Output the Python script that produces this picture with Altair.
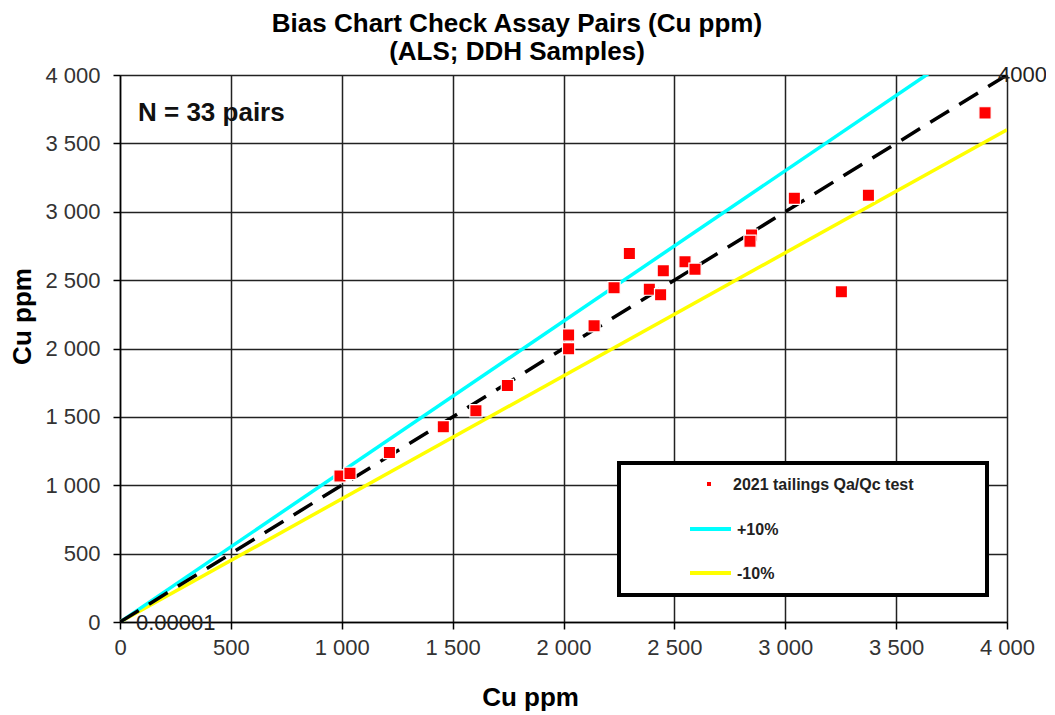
import altair as alt
import pandas as pd

# ---- data ----
cu_original = [992, 1037, 1215, 1458, 1605, 1747, 2023, 2023, 2138, 2228, 2297,
               2387, 2438, 2450, 2548, 2593, 2848, 2841, 3041, 3253, 3375, 3901]
cu_check = [1067, 1087, 1240, 1428, 1545, 1730, 2098, 1998, 2166, 2444, 2695,
            2434, 2393, 2568, 2634, 2580, 2829, 2785, 3099, 2415, 3121, 3723]

ref_x = [0.00001, 4000]
ref_y = [0.00001, 4000]
band_x = [0, 4000]
plus10_y = [0, 4400]
minus10_y = [0, 3600]
ticks = [0, 500, 1000, 1500, 2000, 2500, 3000, 3500, 4000]

title_lines = ["Bias Chart Check Assay Pairs (Cu ppm)", "(ALS; DDH Samples)"]
n_label = "N = 33 pairs"
legend_labels = ["2021 tailings Qa/Qc test", "+10%", "-10%"]

FONT = "Liberation Sans"

pts = pd.DataFrame({"x": cu_original, "y": cu_check})
ref = pd.DataFrame({"x": ref_x, "y": ref_y})
plus = pd.DataFrame({"x": band_x, "y": plus10_y})
minus = pd.DataFrame({"x": band_x, "y": minus10_y})
start_label = pd.DataFrame({"x": [ref_x[0]], "y": [ref_y[0]], "t": ["0.00001"]})
end_label = pd.DataFrame({"x": [ref_x[1]], "y": [ref_y[1]], "t": ["4000"]})

label_expr = "replace(format(datum.value, ','), ',', ' ')"

xs = alt.Scale(domain=[0, 4000], nice=False)
ys = alt.Scale(domain=[0, 4000], nice=False)

common_axis = dict(
    values=ticks, labelExpr=label_expr, labelFontSize=22, labelColor="#333333",
    labelFont=FONT, labelFlush=False, tickSize=7, tickColor="black", tickWidth=1.5,
    domainColor="black", domainWidth=1.5, grid=True, gridColor="#222222",
    gridWidth=1.5, titleFontSize=26, titleFont=FONT, titleFontWeight="bold",
    titleColor="black", titleBaseline="alphabetic",
)

x_enc = alt.X("x:Q", scale=xs, axis=alt.Axis(title="Cu ppm", labelPadding=8,
                                               titleX=410, titleY=83, **common_axis))
y_enc = alt.Y("y:Q", scale=ys, axis=alt.Axis(title="Cu ppm", labelPadding=13,
                                               titleX=-90, titleY=241, titleAngle=270,
                                               **common_axis))

base_axes = alt.Chart(pts).mark_point(opacity=0).encode(x=x_enc, y=y_enc)

minus_line = alt.Chart(minus).mark_line(color="#FFFF00", strokeWidth=3.5, clip=True).encode(
    x=alt.X("x:Q", scale=xs), y=alt.Y("y:Q", scale=ys))
plus_line = alt.Chart(plus).mark_line(color="#00FFFF", strokeWidth=3.5, clip=True).encode(
    x=alt.X("x:Q", scale=xs), y=alt.Y("y:Q", scale=ys))
ref_line = alt.Chart(ref).mark_line(color="black", strokeWidth=3.5, strokeDash=[22, 12],
                                    clip=True).encode(
    x=alt.X("x:Q", scale=xs), y=alt.Y("y:Q", scale=ys))

start_text = alt.Chart(start_label).mark_text(
    font=FONT, fontSize=22, color="#222222", align="left", baseline="alphabetic",
    dx=16, dy=8).encode(x=alt.X("x:Q", scale=xs), y=alt.Y("y:Q", scale=ys), text="t:N")
end_text = alt.Chart(end_label).mark_text(
    font=FONT, fontSize=22, color="#222222", align="left", baseline="alphabetic",
    dx=-9, dy=7).encode(x=alt.X("x:Q", scale=xs), y=alt.Y("y:Q", scale=ys), text="t:N")

points = alt.Chart(pts).mark_square(size=150, fill="#FF0000", stroke="white",
                                    strokeWidth=1.2, opacity=1).encode(
    x=alt.X("x:Q", scale=xs), y=alt.Y("y:Q", scale=ys))

# annotations (pixel positions relative to the plot area)
n_text = alt.Chart(pd.DataFrame({"t": [n_label]})).mark_text(
    font=FONT, fontSize=26, fontWeight="bold", color="#111111", align="left",
    baseline="alphabetic").encode(x=alt.value(18), y=alt.value(46), text="t:N")

title1 = alt.Chart(pd.DataFrame({"t": [title_lines[0]]})).mark_text(
    font=FONT, fontSize=26, fontWeight="bold", color="black", align="center",
    baseline="alphabetic").encode(x=alt.value(397), y=alt.value(-43), text="t:N")
title2 = alt.Chart(pd.DataFrame({"t": [title_lines[1]]})).mark_text(
    font=FONT, fontSize=26, fontWeight="bold", color="black", align="center",
    baseline="alphabetic").encode(x=alt.value(397), y=alt.value(-15), text="t:N")

legend_box = alt.Chart(pd.DataFrame({"a": [0]})).mark_rect(
    fill="white", stroke="black", strokeWidth=4).encode(
    x=alt.value(499), x2=alt.value(867), y=alt.value(388), y2=alt.value(520))
legend_marker = alt.Chart(pd.DataFrame({"a": [0]})).mark_square(
    size=16, fill="#FF0000", opacity=1).encode(x=alt.value(589), y=alt.value(409))
legend_cyan = alt.Chart(pd.DataFrame({"a": [0]})).mark_rule(
    color="#00FFFF", strokeWidth=4).encode(x=alt.value(570), x2=alt.value(611), y=alt.value(454))
legend_yellow = alt.Chart(pd.DataFrame({"a": [0]})).mark_rule(
    color="#FFFF00", strokeWidth=4).encode(x=alt.value(570), x2=alt.value(611), y=alt.value(498))
leg_df = pd.DataFrame({"t": legend_labels, "px": [613, 617, 617], "py": [415, 460, 504]})
legend_text = alt.Chart(leg_df).mark_text(
    font=FONT, fontSize=16, fontWeight="bold", color="#222222", align="left",
    baseline="alphabetic").encode(
    x=alt.X("px:Q", scale=None), y=alt.Y("py:Q", scale=None), text="t:N")

chart = alt.layer(
    base_axes, minus_line, plus_line, ref_line, start_text, end_text, points, n_text,
    title1, title2, legend_box, legend_marker, legend_cyan, legend_yellow, legend_text,
).properties(
    width=887, height=547,
    autosize=alt.AutoSizeParams(type="none"),
    padding={"left": 112, "top": 67, "right": 39, "bottom": 89},
).configure_view(
    fill="#CCCCFF", stroke="black", strokeWidth=1.5
).configure(font=FONT, background="white")

chart.save("out.html", embed_options={"renderer": "svg", "actions": False})
